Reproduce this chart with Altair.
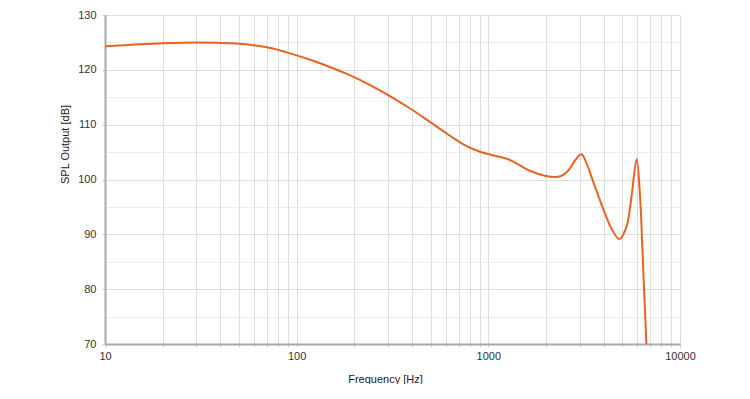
import altair as alt
import pandas as pd

freq = [10, 15, 20, 30, 38, 44.7, 56.8, 72.1, 91.6, 116.4, 147.9, 187.9, 238.8, 303.4,
        385.5, 489.8, 622.3, 744.7, 891.3, 1066, 1276, 1440, 1670, 1970, 2250, 2450,
        2650, 2850, 3060, 3250, 3500, 3750, 4000, 4380, 4830, 5260, 5580, 5940, 6190,
        6360, 6520, 6680]
spl = [124.3, 124.65, 124.85, 125.0, 124.95, 124.85, 124.58, 124.03, 123.05, 121.88,
       120.57, 119.07, 117.32, 115.31, 113.08, 110.64, 108.12, 106.37, 105.15, 104.38,
       103.65, 102.7, 101.5, 100.7, 100.45, 100.8, 101.9, 103.6, 104.6, 103.0, 99.9,
       97.0, 94.4, 91.1, 89.1, 91.4, 96.8, 103.7, 96.8, 87.7, 78.6, 70.0]

x_ticks = [10, 20, 30, 40, 50, 60, 70, 80, 90,
           100, 200, 300, 400, 500, 600, 700, 800, 900,
           1000, 2000, 3000, 4000, 5000, 6000, 7000, 8000, 9000, 10000]
y_ticks = [70, 75, 80, 85, 90, 95, 100, 105, 110, 115, 120, 125, 130]

df = pd.DataFrame({"freq": freq, "spl": spl})

font = "Liberation Sans"

chart = alt.Chart(df).mark_line(
    color="#E8641E", strokeWidth=2, interpolate="catmull-rom", clip=True
).encode(
    x=alt.X(
        "freq:Q",
        scale=alt.Scale(type="log", domain=[10, 10000], nice=False),
        axis=alt.Axis(
            values=x_ticks,
            format="d",
            labelExpr="indexof([10, 100, 1000, 10000], datum.value) >= 0 ? datum.label : ''",
            labelOverlap=False,
            labelFlush=False,
            title="Frequency [Hz]",
            titleFont=font,
            titleFontSize=11,
            titleFontWeight="normal",
            titleColor="#222222",
            titlePadding=12,
            titleX=280,
            labelFont=font,
            labelFontSize=11,
            labelColor="#333333",
            labelPadding=3,
            tickSize=3,
            tickColor="#C8C8CC",
            domainColor="#A8A8B0",
            domainWidth=2,
            gridColor="#DEDEDE",
            gridWidth=1,
        ),
    ),
    y=alt.Y(
        "spl:Q",
        scale=alt.Scale(domain=[70, 130], nice=False, zero=False),
        axis=alt.Axis(
            values=y_ticks,
            labelExpr="datum.value % 10 === 0 ? datum.label : ''",
            title="SPL Output [dB]",
            titleFont=font,
            titleFontSize=11,
            titleFontWeight="normal",
            titleColor="#222222",
            titleX=-35,
            titleY=129,
            labelFont=font,
            labelFontSize=11,
            labelColor="#333333",
            labelPadding=6,
            tickSize=3,
            tickColor="#C8C8CC",
            tickOpacity={"condition": {"test": "datum.value % 10 !== 0", "value": 0}, "value": 1},
            domainColor="#A8A8B0",
            domainWidth=2,
            gridColor="#DEDEDE",
            gridWidth=1,
            gridDash={"condition": {"test": "datum.value % 10 !== 0", "value": [2, 2]}, "value": []},
        ),
    ),
).properties(
    width=575,
    height=329,
    autosize=alt.AutoSizeParams(type="none"),
    padding={"left": 97, "top": 7, "right": 50, "bottom": 40},
    background="white",
).configure_view(stroke=None)

chart.save("out.html", embed_options={"renderer": "svg", "actions": False})
